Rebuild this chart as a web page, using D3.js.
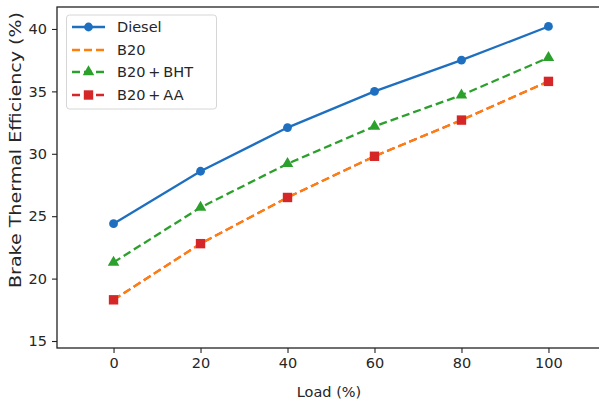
<!DOCTYPE html>
<html><head><meta charset="utf-8">
<script src="https://cdn.jsdelivr.net/npm/d3@7"></script>
<style>
body{margin:0;background:#fff;}
text{font-family:"DejaVu Sans",sans-serif;fill:#262626;}
</style></head>
<body><svg id="c" width="599" height="407"></svg>
<script>
const loads = [0, 20, 40, 60, 80, 100];
const diesel = [24.4, 28.6, 32.1, 35.0, 37.5, 40.2];
const b20 = [18.3, 22.8, 26.5, 29.8, 32.7, 35.8];
const b20bht = [21.3, 25.7, 29.2, 32.2, 34.7, 37.7];
const b20aa = [18.3, 22.8, 26.5, 29.8, 32.7, 35.8];
const xTicks = [0, 20, 40, 60, 80, 100];
const yTicks = [15, 20, 25, 30, 35, 40];
const seriesNames = ["Diesel", "B20", "B20\u2009+\u2009BHT", "B20\u2009+\u2009AA"];

const svg = d3.select("#c");
const L = 57, R = 605, T = 7, B = 348;
const x = d3.scaleLinear().domain([-13, 113]).range([L, R]);
const y = d3.scaleLinear().domain([14.44, 41.76]).range([B, T]);

const fs = 14.5;
const gx = svg.append("g").attr("transform", `translate(0,${B})`)
  .call(d3.axisBottom(x).tickValues(xTicks).tickSize(5).tickPadding(5).tickSizeOuter(0));
const gy = svg.append("g").attr("transform", `translate(${L},0)`)
  .call(d3.axisLeft(y).tickValues(yTicks).tickSize(5).tickPadding(5).tickSizeOuter(0));
[gx, gy].forEach(g => {
  g.select(".domain").remove();
  g.selectAll("line").attr("stroke", "#222").attr("stroke-width", 1.1);
  g.selectAll("text").attr("font-size", fs).style("fill", "#262626");
});
svg.append("rect").attr("x", L).attr("y", T).attr("width", R - L).attr("height", B - T)
  .attr("fill", "none").attr("stroke", "#222").attr("stroke-width", 1.3);

svg.append("text").attr("x", 329).attr("y", 397)
  .attr("text-anchor", "middle").attr("font-size", fs).text("Load (%)");
svg.append("text").attr("transform", `translate(21,150) rotate(-90)`)
  .attr("text-anchor", "middle").attr("font-size", 15)
  .attr("textLength", 276).attr("lengthAdjust", "spacingAndGlyphs")
  .text("Brake Thermal Efficiency (%)");

const line = d3.line().x((d, i) => x(loads[i])).y(d => y(d));
const C = {blue: "#1f6fc0", orange: "#ff7f0e", green: "#2ca02c", red: "#d62728"};
const DASH = "8,4";

const plot = svg.append("g");
plot.append("path").datum(b20aa).attr("d", line).attr("fill", "none")
  .attr("stroke", C.red).attr("stroke-width", 2).attr("stroke-dasharray", DASH);
plot.append("path").datum(b20).attr("d", line).attr("fill", "none")
  .attr("stroke", C.orange).attr("stroke-width", 2.3).attr("stroke-dasharray", DASH);
plot.append("path").datum(diesel).attr("d", line).attr("fill", "none")
  .attr("stroke", C.blue).attr("stroke-width", 2.3);
plot.selectAll(".dm").data(diesel).enter().append("circle")
  .attr("cx", (d, i) => x(loads[i])).attr("cy", d => y(d)).attr("r", 4.4).attr("fill", C.blue);
plot.selectAll(".tm").data(b20bht).enter().append("path")
  .attr("d", d3.symbol().type(d3.symbolTriangle).size(58))
  .attr("transform", (d, i) => `translate(${x(loads[i])},${y(d)})`).attr("fill", C.green);
plot.append("path").datum(b20bht).attr("d", line).attr("fill", "none")
  .attr("stroke", C.green).attr("stroke-width", 2.3).attr("stroke-dasharray", DASH);
plot.selectAll(".sm").data(b20aa).enter().append("rect")
  .attr("x", (d, i) => x(loads[i]) - 4.7).attr("y", d => y(d) - 4.7)
  .attr("width", 9.4).attr("height", 9.4).attr("fill", C.red);

const lg = svg.append("g");
lg.append("rect").attr("x", 66.5).attr("y", 15).attr("width", 150).attr("height", 94).attr("rx", 3)
  .attr("fill", "#fff").attr("fill-opacity", 0.85).attr("stroke", "#d6d6d6").attr("stroke-width", 1);
const ly = [27, 50, 72, 95];
const styles = [
  {c: C.blue, dash: null, m: "circle"},
  {c: C.orange, dash: DASH, m: null},
  {c: C.green, dash: DASH, m: "tri"},
  {c: C.red, dash: DASH, m: "sq"}
];
seriesNames.forEach((name, i) => {
  const s = styles[i], yy = ly[i];
  lg.append("line").attr("x1", 72).attr("x2", 105).attr("y1", yy).attr("y2", yy)
    .attr("stroke", s.c).attr("stroke-width", 2.3).attr("stroke-dasharray", s.dash);
  if (s.m === "circle") lg.append("circle").attr("cx", 88.5).attr("cy", yy).attr("r", 4.4).attr("fill", s.c);
  if (s.m === "tri") lg.append("path").attr("d", d3.symbol().type(d3.symbolTriangle).size(58)())
    .attr("transform", `translate(88.5,${yy})`).attr("fill", s.c);
  if (s.m === "sq") lg.append("rect").attr("x", 83.8).attr("y", yy - 4.7).attr("width", 9.4).attr("height", 9.4).attr("fill", s.c);
  lg.append("text").attr("x", 117).attr("y", yy).attr("dy", "0.35em").attr("font-size", fs).text(name);
});
</script></body></html>
